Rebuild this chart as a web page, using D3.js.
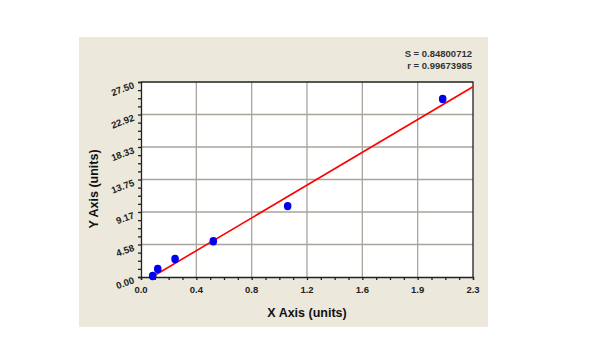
<!DOCTYPE html>
<html>
<head>
<meta charset="utf-8">
<script src="https://cdn.jsdelivr.net/npm/d3@7"></script>
<style>
  body { margin: 0; background: #fff; }
  text { font-family: "Liberation Sans", Arial, sans-serif; }
</style>
</head>
<body>
<div id="chart"></div>
<script>
// data points
var xs = [0.081, 0.116, 0.236, 0.501, 1.016, 2.09];
var ys = [0.14, 1.13, 2.54, 5.04, 10.0, 25.1];

// fitted line
var fitSlope = 12.06;
var fitIntercept = -0.91;
var fitStart = 0.067;

var xTickLabels = ['0.0', '0.4', '0.8', '1.2', '1.6', '1.9', '2.3'];
var yTickLabels = ['0.00', '4.58', '9.17', '13.75', '18.33', '22.92', '27.50'];
var stats = ['S = 0.84800712', 'r = 0.99673985'];

var xMax = 2.3;
var yMax = 27.5;

var width = 600;
var height = 364;
var margin = { top: 82, right: 127, bottom: 87, left: 141 };

var x = d3.scaleLinear()
    .domain([0, xMax])
    .range([margin.left, width - margin.right]);

var y = d3.scaleLinear()
    .domain([0, yMax])
    .range([height - margin.bottom, margin.top]);

var xMajor = d3.range(7).map(i => i * xMax / 6);
var yMajor = d3.range(7).map(i => i * yMax / 6);
var xMinor = d3.range(25).map(i => i * xMax / 24);
var yMinor = d3.range(25).map(i => i * yMax / 24);

const svg = d3.select('#chart')
    .append('svg')
    .attr('width', width)
    .attr('height', height);

// beige panel
svg.append('rect')
    .attr('x', 79).attr('y', 37)
    .attr('width', 409).attr('height', 290)
    .attr('fill', '#ece9dc');

// plot area
svg.append('rect')
    .attr('x', x(0)).attr('y', y(yMax))
    .attr('width', x(xMax) - x(0))
    .attr('height', y(0) - y(yMax))
    .attr('fill', '#fff');

// grid
svg.append('g')
    .selectAll('line')
    .data(xMajor.slice(1, -1))
    .join('line')
    .attr('x1', d => x(d)).attr('x2', d => x(d))
    .attr('y1', y(0)).attr('y2', y(yMax))
    .attr('stroke', '#a9a59c')
    .attr('stroke-width', 1.3);

svg.append('g')
    .selectAll('line')
    .data(yMajor.slice(1, -1))
    .join('line')
    .attr('x1', x(0)).attr('x2', x(xMax))
    .attr('y1', d => y(d)).attr('y2', d => y(d))
    .attr('stroke', '#a9a59c')
    .attr('stroke-width', 1.3);

// frame
svg.append('path')
    .attr('d', `M${x(0)},${y(yMax)}H${x(xMax)}V${y(0)}`)
    .attr('fill', 'none')
    .attr('stroke', '#222')
    .attr('stroke-width', 1.3);

// x axis
var xAxis = g => g
    .attr('transform', `translate(0,${y(0)})`)
    .call(d3.axisBottom(x)
        .tickValues(xMinor)
        .tickSize(3)
        .tickFormat(''))
    .call(g => g.selectAll('line,path').attr('stroke', '#222').attr('stroke-width', 1.3))
    .call(g => g.selectAll('.label')
        .data(xMajor)
        .join('text')
        .attr('class', 'label')
        .attr('x', d => x(d))
        .attr('y', 16)
        .attr('text-anchor', 'middle')
        .attr('font-size', 9.5)
        .attr('font-weight', 'bold')
        .attr('fill', '#222')
        .text((d, i) => xTickLabels[i]));

// y axis
var yAxis = g => g
    .attr('transform', `translate(${x(0)},0)`)
    .call(d3.axisLeft(y)
        .tickValues(yMinor)
        .tickSize(3)
        .tickFormat(''))
    .call(g => g.selectAll('line,path').attr('stroke', '#222').attr('stroke-width', 1.3))
    .call(g => g.selectAll('.label')
        .data(yMajor)
        .join('text')
        .attr('class', 'label')
        .attr('transform', d => `translate(-6,${y(d) + 6}) rotate(-20)`)
        .attr('text-anchor', 'end')
        .attr('font-size', 9.5)
        .attr('font-weight', 'bold')
        .attr('fill', '#222')
        .text((d, i) => yTickLabels[i]));

svg.append('g').call(xAxis);
svg.append('g').call(yAxis);

// fit line
var line = d3.line()
    .x(d => x(d))
    .y(d => y(fitSlope * d + fitIntercept));

svg.append('path')
    .datum([fitStart, xMax])
    .attr('fill', 'none')
    .attr('stroke', '#ff0000')
    .attr('stroke-width', 1.6)
    .attr('d', line);

// points
svg.append('g')
    .selectAll('ellipse')
    .data(xs)
    .join('ellipse')
    .attr('cx', d => x(d))
    .attr('cy', (d, i) => y(ys[i]))
    .attr('rx', 3.8)
    .attr('ry', 4.2)
    .attr('fill', '#0000ee');

// stats
svg.append('g')
    .selectAll('text')
    .data(stats)
    .join('text')
    .attr('x', x(xMax) - 1)
    .attr('y', (d, i) => 57 + i * 11.5)
    .attr('text-anchor', 'end')
    .attr('font-size', 9.5)
    .attr('font-weight', 'bold')
    .attr('fill', '#333')
    .text(d => d);

// axis titles
svg.append('text')
    .attr('x', (x(0) + x(xMax)) / 2)
    .attr('y', 317)
    .attr('text-anchor', 'middle')
    .attr('font-size', 12.5)
    .attr('font-weight', 'bold')
    .attr('fill', '#111')
    .text('X Axis (units)');

svg.append('text')
    .attr('transform', 'translate(98,189) rotate(-90)')
    .attr('text-anchor', 'middle')
    .attr('font-size', 12.5)
    .attr('font-weight', 'bold')
    .attr('fill', '#111')
    .text('Y Axis (units)');
</script>
</body>
</html>
